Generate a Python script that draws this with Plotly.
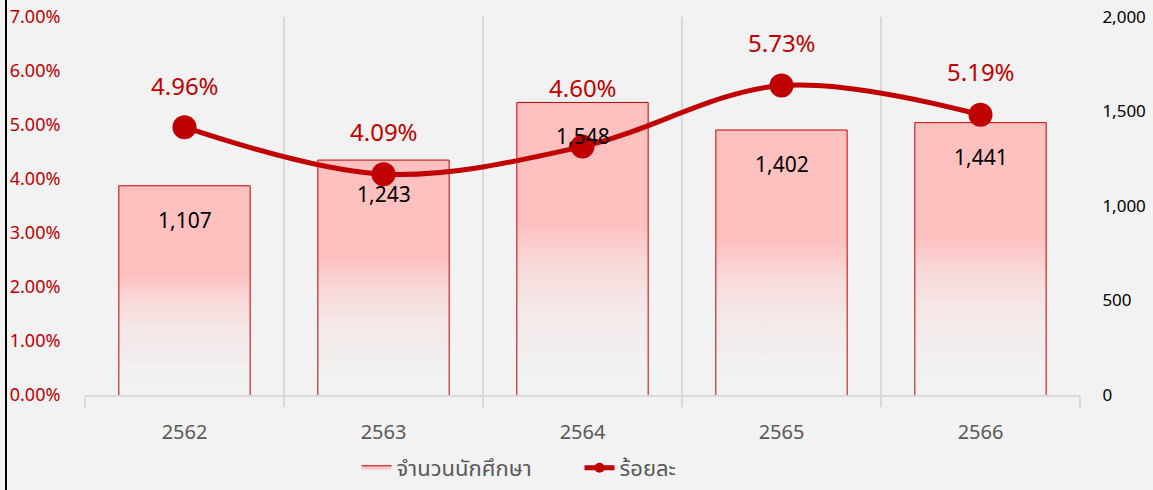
import plotly.graph_objects as go

years = ["2562", "2563", "2564", "2565", "2566"]
students = [1107, 1243, 1548, 1402, 1441]
percent = [4.96, 4.09, 4.60, 5.73, 5.19]
bar_name = "จำนวนนักศึกษา"
line_name = "ร้อยละ"

# label vertical offsets (px) above the line markers (style only)
pct_label_shift = [42, 43, 59, 43, 43]

RED = "#C00000"
PINK = "255,192,192"
BG = "#F2F2F2"
FONT = "Noto Sans, Noto Sans Thai, Open Sans, sans-serif"

idx = list(range(len(years)))
half = 0.33

fig = go.Figure()

for i, v in zip(idx, students):
    fig.add_trace(go.Scatter(
        x=[i - half, i - half, i + half, i + half],
        y=[0, v, v, 0],
        mode="lines",
        fill="toself",
        fillgradient=dict(
            type="vertical",
            colorscale=[
                [0.0, f"rgba({PINK},0)"],
                [0.1, f"rgba({PINK},0.02)"],
                [0.3, f"rgba({PINK},0.2)"],
                [0.45, f"rgba({PINK},0.5)"],
                [0.58, f"rgba({PINK},1)"],
                [1.0, f"rgba({PINK},1)"],
            ],
        ),
        line=dict(color=RED, width=1),
        name=bar_name,
        legendgroup="bars",
        showlegend=(i == 0),
        yaxis="y",
        hoverinfo="skip",
    ))

fig.add_trace(go.Scatter(
    x=idx, y=[p / 100 for p in percent],
    mode="lines+markers",
    line=dict(color=RED, width=5, shape="spline", smoothing=1),
    marker=dict(size=24, color=RED),
    name=line_name,
    showlegend=False,
    yaxis="y2",
))
fig.add_trace(go.Scatter(
    x=[None], y=[None],
    mode="lines+markers",
    line=dict(color=RED, width=5),
    marker=dict(size=10, color=RED),
    name=line_name,
    yaxis="y2",
))

annotations = []
for i, v in zip(idx, students):
    annotations.append(dict(x=i, y=v, xref="x", yref="y", text=f"{v:,}",
                            showarrow=False, yshift=-34,
                            font=dict(size=21, color="#000000", family=FONT)))
for i, p, s in zip(idx, percent, pct_label_shift):
    annotations.append(dict(x=i, y=p / 100, xref="x", yref="y2", text=f"{p:.2f}%",
                            showarrow=False, yshift=s,
                            font=dict(size=24, color=RED, family=FONT)))

fig.update_layout(
    width=1153, height=490,
    margin=dict(l=85, r=73, t=17, b=95, autoexpand=False),
    paper_bgcolor=BG, plot_bgcolor=BG,
    font=dict(family=FONT, color="#595959"),
    xaxis=dict(
        range=[-0.5, len(years) - 0.5],
        tickmode="array", tickvals=idx, ticktext=years,
        showgrid=False, zeroline=False,
        ticks="outside", ticklen=18, tickcolor="rgba(0,0,0,0)",
        tickfont=dict(size=20, color="#595959"),
        showline=True, linecolor="#D9D9D9", linewidth=2,
        minor=dict(
            tickmode="array",
            tickvals=[i - 0.5 for i in range(len(years) + 1)],
            ticks="outside", ticklen=10, tickcolor="#D9D9D9", tickwidth=2,
            showgrid=True, gridcolor="#D9D9D9", gridwidth=2,
        ),
        fixedrange=True,
    ),
    yaxis=dict(
        side="right", range=[0, 2000], dtick=500, tickformat=",",
        showgrid=False, zeroline=False,
        ticks="outside", ticklen=18, tickcolor="rgba(0,0,0,0)",
        tickfont=dict(size=17, color="#000000"),
    ),
    yaxis2=dict(
        side="left", overlaying="y", range=[0, 0.07], dtick=0.01, tickformat=".2%",
        showgrid=False, zeroline=False,
        ticks="outside", ticklen=20, tickcolor="rgba(0,0,0,0)",
        tickfont=dict(size=18, color=RED),
    ),
    legend=dict(
        orientation="h", x=0.497, xanchor="center", y=-0.193, yanchor="middle",
        font=dict(size=22, color="#595959"), bgcolor="rgba(0,0,0,0)",
        entrywidth=178, entrywidthmode="pixels",
    ),
    annotations=annotations,
    shapes=[dict(type="line", xref="paper", yref="paper",
                 x0=(6 - 85) / 995, x1=(6 - 85) / 995,
                 y0=-95 / 378, y1=1 + 17 / 378,
                 line=dict(color="#000000", width=2))],
    showlegend=True,
)

fig.write_html(
    "out.html",
    config={"displayModeBar": False},
    post_script="document.body.style.margin='0';document.body.style.overflow='hidden';",
)
